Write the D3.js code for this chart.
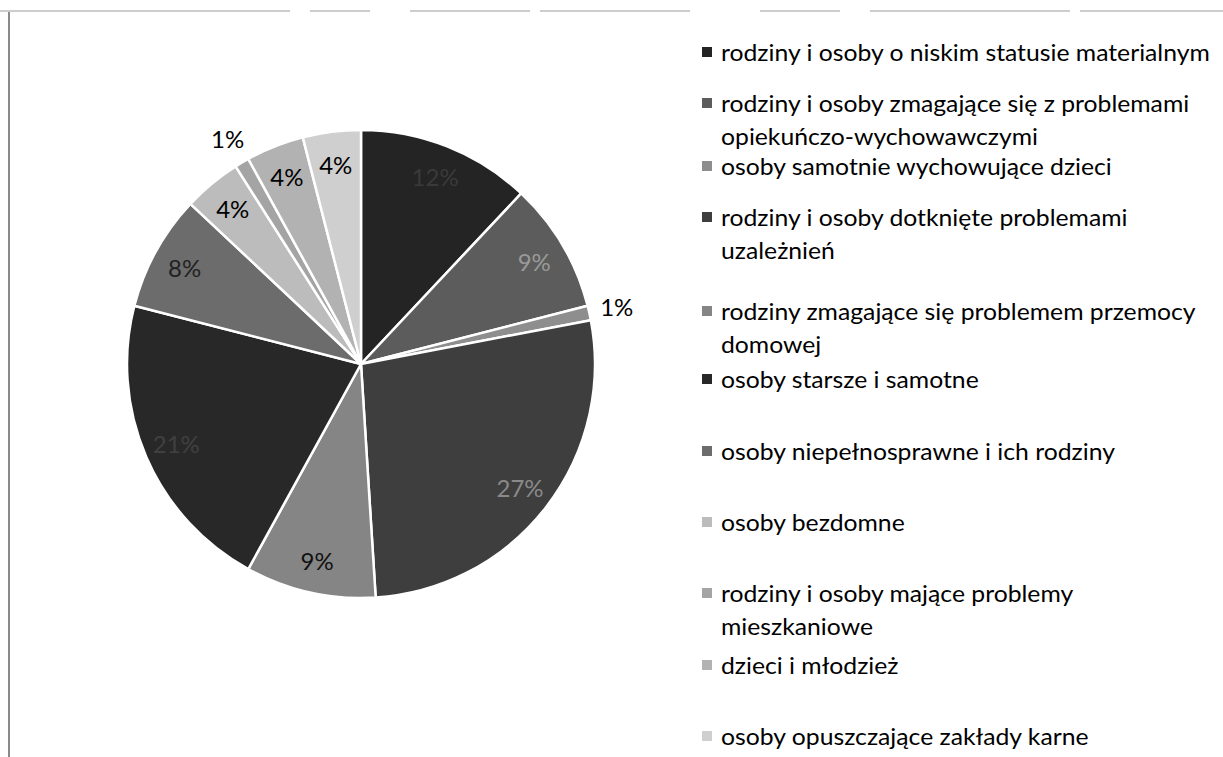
<!DOCTYPE html>
<html>
<head>
<meta charset="utf-8">
<script src="https://cdn.jsdelivr.net/npm/d3@7"></script>
<style>
  html, body { margin: 0; padding: 0; background: #fff; }
  svg { display: block; }
  text { font-family: Lato, "Open Sans", sans-serif; }
</style>
</head>
<body>
<svg id="chart" width="1223" height="757"></svg>
<script>
// ---- data ----
const categories = [
  "rodziny i osoby o niskim statusie materialnym",
  "rodziny i osoby zmagające się z problemami opiekuńczo-wychowawczymi",
  "osoby samotnie wychowujące dzieci",
  "rodziny i osoby dotknięte problemami uzależnień",
  "rodziny zmagające się problemem przemocy domowej",
  "osoby starsze i samotne",
  "osoby niepełnosprawne i ich rodziny",
  "osoby bezdomne",
  "rodziny i osoby mające problemy mieszkaniowe",
  "dzieci i młodzież",
  "osoby opuszczające zakłady karne"
];
const values = [12, 9, 1, 27, 9, 21, 8, 4, 1, 4, 4];
// legend lines as wrapped in the original
const legendLines = [
  ["rodziny i osoby o niskim statusie materialnym"],
  ["rodziny i osoby zmagające się z problemami", "opiekuńczo-wychowawczymi"],
  ["osoby samotnie wychowujące dzieci"],
  ["rodziny i osoby dotknięte problemami", "uzależnień"],
  ["rodziny zmagające się problemem przemocy", "domowej"],
  ["osoby starsze i samotne"],
  ["osoby niepełnosprawne i ich rodziny"],
  ["osoby bezdomne"],
  ["rodziny i osoby mające problemy", "mieszkaniowe"],
  ["dzieci i młodzież"],
  ["osoby opuszczające zakłady karne"]
];

// ---- styles ----
const colors = ["#242424", "#5c5c5c", "#8e8e8e", "#3e3e3e", "#858585", "#282828",
                "#6c6c6c", "#bcbcbc", "#a4a4a4", "#b2b2b2", "#cfcfcf"];
const labelColors = ["#3a3a3a", "#9a9a9a", "#000", "#8a8a8a", "#111", "#404040",
                     "#222", "#000", "#000", "#000", "#000"];
const outsideLabel = [false, false, true, false, false, false, false, false, true, false, false];
const legendTops = [52, 103, 166, 217, 311, 379, 451, 522, 593, 665, 736];
const legendLineGap = 33;

const svg = d3.select("#chart");

// frame artefacts of the scan
svg.append("line").attr("x1", 9).attr("x2", 9).attr("y1", 12).attr("y2", 757)
  .attr("stroke", "#8a8a8a").attr("stroke-width", 2);
svg.append("line").attr("x1", 0).attr("x2", 1223).attr("y1", 11).attr("y2", 11)
  .attr("stroke", "#9a9a9a").attr("stroke-width", 1)
  .attr("stroke-dasharray", "290 20 60 40 120 10 150 70 80 30 200 10 400");

// ---- pie ----
const cx = 361, cy = 364, R = 234;
const g = svg.append("g").attr("transform", `translate(${cx},${cy})`);
const pie = d3.pie().sort(null).value(d => d);
const arcs = pie(values);
const arc = d3.arc().innerRadius(0).outerRadius(R);
const total = d3.sum(values);

g.selectAll("path.slice").data(arcs).join("path")
  .attr("class", "slice")
  .attr("d", arc)
  .attr("fill", (d, i) => colors[i])
  .attr("stroke", "#fff")
  .attr("stroke-width", 2.5)
  .attr("stroke-linejoin", "round");

const inArc = d3.arc().innerRadius(R * 0.86).outerRadius(R * 0.86);
const outArc = d3.arc().innerRadius(R * 1.12).outerRadius(R * 1.12);

g.selectAll("text.lbl").data(arcs).join("text")
  .attr("class", "lbl")
  .attr("transform", (d, i) => `translate(${(outsideLabel[i] ? outArc : inArc).centroid(d)})`)
  .attr("text-anchor", "middle")
  .attr("dominant-baseline", "central")
  .attr("font-size", 24)
  .attr("fill", (d, i) => labelColors[i])
  .text(d => Math.round(d.value / total * 100) + "%");

// ---- legend ----
const legX = 702, textX = 721;
const leg = svg.append("g");
legendLines.forEach((lines, i) => {
  leg.append("rect")
    .attr("x", legX).attr("y", legendTops[i] - 5)
    .attr("width", 10).attr("height", 10)
    .attr("fill", colors[i]);
  lines.forEach((ln, j) => {
    leg.append("text")
      .attr("class", "legtext")
      .attr("x", textX)
      .attr("y", legendTops[i] + j * legendLineGap)
      .attr("dominant-baseline", "central")
      .attr("font-size", 23)
      .attr("fill", "#000")
      .text(ln);
  });
});
// fit legend text width to the original (first entry spans ~489px)
const firstW = leg.select("text.legtext").node().getComputedTextLength();
const k = 489 / firstW;
leg.selectAll("text.legtext")
  .attr("transform", function () {
    return `translate(${textX},0) scale(${k},1) translate(${-textX},0)`;
  });
</script>
</body>
</html>
